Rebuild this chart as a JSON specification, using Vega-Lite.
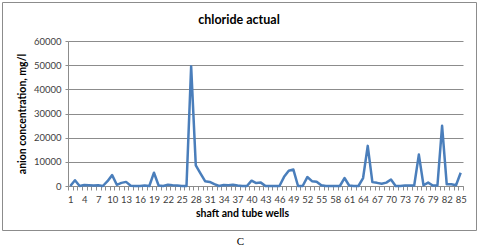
{
  "$schema": "https://vega.github.io/schema/vega-lite/v6.json",
  "width": 474,
  "height": 228,
  "padding": {"left": 2, "top": 2, "right": 2, "bottom": 2},
  "background": "white",
  "title": {"text": "chloride actual", "orient": "top", "anchor": "middle", "frame": "group", "offset": -24, "font": "Lato", "fontSize": 12.5, "fontWeight": "bold", "color": "#000000"},
  "config": {"view": {"stroke": "#8c8c8c", "strokeWidth": 1}},
  "data": {"values": [
    {"well": 1, "cl": 0}, {"well": 2, "cl": 2400}, {"well": 3, "cl": 0}, {"well": 4, "cl": 400}, {"well": 5, "cl": 300},
    {"well": 6, "cl": 200}, {"well": 7, "cl": 300}, {"well": 8, "cl": 0}, {"well": 9, "cl": 2000}, {"well": 10, "cl": 4500},
    {"well": 11, "cl": 500}, {"well": 12, "cl": 1300}, {"well": 13, "cl": 1700}, {"well": 14, "cl": 100}, {"well": 15, "cl": 0},
    {"well": 16, "cl": 0}, {"well": 17, "cl": 200}, {"well": 18, "cl": 0}, {"well": 19, "cl": 5500}, {"well": 20, "cl": 200},
    {"well": 21, "cl": 0}, {"well": 22, "cl": 500}, {"well": 23, "cl": 300}, {"well": 24, "cl": 200}, {"well": 25, "cl": 0},
    {"well": 26, "cl": 0}, {"well": 27, "cl": 49500}, {"well": 28, "cl": 8500}, {"well": 29, "cl": 5200}, {"well": 30, "cl": 2000},
    {"well": 31, "cl": 1700}, {"well": 32, "cl": 800}, {"well": 33, "cl": 0}, {"well": 34, "cl": 400}, {"well": 35, "cl": 300},
    {"well": 36, "cl": 500}, {"well": 37, "cl": 200}, {"well": 38, "cl": 0}, {"well": 39, "cl": 0}, {"well": 40, "cl": 2200},
    {"well": 41, "cl": 1200}, {"well": 42, "cl": 1400}, {"well": 43, "cl": 0}, {"well": 44, "cl": 0}, {"well": 45, "cl": 0},
    {"well": 46, "cl": 0}, {"well": 47, "cl": 3800}, {"well": 48, "cl": 6300}, {"well": 49, "cl": 6800}, {"well": 50, "cl": 0},
    {"well": 51, "cl": 0}, {"well": 52, "cl": 3700}, {"well": 53, "cl": 2000}, {"well": 54, "cl": 1800}, {"well": 55, "cl": 300},
    {"well": 56, "cl": 0}, {"well": 57, "cl": 0}, {"well": 58, "cl": 0}, {"well": 59, "cl": 0}, {"well": 60, "cl": 3300},
    {"well": 61, "cl": 200}, {"well": 62, "cl": 0}, {"well": 63, "cl": 0}, {"well": 64, "cl": 3300}, {"well": 65, "cl": 16600},
    {"well": 66, "cl": 1600}, {"well": 67, "cl": 1300}, {"well": 68, "cl": 900}, {"well": 69, "cl": 1400}, {"well": 70, "cl": 2700},
    {"well": 71, "cl": 0}, {"well": 72, "cl": 0}, {"well": 73, "cl": 200}, {"well": 74, "cl": 200}, {"well": 75, "cl": 200},
    {"well": 76, "cl": 13000}, {"well": 77, "cl": 300}, {"well": 78, "cl": 1400}, {"well": 79, "cl": 200}, {"well": 80, "cl": 200},
    {"well": 81, "cl": 24900}, {"well": 82, "cl": 700}, {"well": 83, "cl": 700}, {"well": 84, "cl": 300}, {"well": 85, "cl": 5500}
  ]},
  "layer": [
    {
      "mark": {"type": "line", "color": "#4a7ebb", "strokeWidth": 2.5, "strokeJoin": "round"},
      "encoding": {
        "x": {
          "field": "well", "type": "quantitative",
          "scale": {"domain": [0.5, 85.5], "range": [66, 461], "nice": false, "zero": false},
          "axis": {
            "orient": "bottom", "offset": -44,
            "values": [0.5,1.5,2.5,3.5,4.5,5.5,6.5,7.5,8.5,9.5,10.5,11.5,12.5,13.5,14.5,15.5,16.5,17.5,18.5,19.5,20.5,21.5,22.5,23.5,24.5,25.5,26.5,27.5,28.5,29.5,30.5,31.5,32.5,33.5,34.5,35.5,36.5,37.5,38.5,39.5,40.5,41.5,42.5,43.5,44.5,45.5,46.5,47.5,48.5,49.5,50.5,51.5,52.5,53.5,54.5,55.5,56.5,57.5,58.5,59.5,60.5,61.5,62.5,63.5,64.5,65.5,66.5,67.5,68.5,69.5,70.5,71.5,72.5,73.5,74.5,75.5,76.5,77.5,78.5,79.5,80.5,81.5,82.5,83.5,84.5,85.5],
            "labelExpr": "((datum.value - 0.5) % 3 == 1) ? format(datum.value - 0.5, 'd') : ''",
            "labelOffset": -2.32,
            "labelOverlap": false,
            "labelFlush": false,
            "labelBound": false,
            "labelFont": "Lato", "labelFontSize": 9.5, "labelColor": "#404040", "labelPadding": 4,
            "grid": false,
            "tickSize": 4, "tickColor": "#8c8c8c", "domainColor": "#8c8c8c",
            "title": "shaft and tube wells", "titleX": 240, "titleY": 27, "titleBaseline": "middle",
            "titleFont": "Lato", "titleFontSize": 10.5, "titleFontWeight": "bold", "titleColor": "#000000"
          }
        },
        "y": {
          "field": "cl", "type": "quantitative",
          "scale": {"domain": [0, 60000], "range": [184, 39], "nice": false, "zero": true},
          "axis": {
            "orient": "left", "offset": -66,
            "values": [0, 10000, 20000, 30000, 40000, 50000, 60000],
            "format": "d",
            "grid": true, "gridColor": "#8c8c8c", "gridWidth": 1,
            "domainColor": "#8c8c8c", "tickColor": "#8c8c8c", "tickSize": 3,
            "labelFont": "Lato", "labelFontSize": 9.5, "labelColor": "#404040", "labelPadding": 4,
            "title": "anion concentration, mg/l", "titleFont": "Lato", "titleFontSize": 10.5, "titleFontWeight": "bold", "titleColor": "#000000", "titlePadding": 6
          }
        }
      }
    },
    {
      "mark": {"type": "rule", "opacity": 0},
      "encoding": {
        "x": {
          "field": "well", "type": "quantitative",
          "axis": {
            "orient": "bottom", "offset": 0, "labels": false, "ticks": false, "domain": false, "grid": false,
            "title": "C", "titleX": 238, "titleY": 11, "titleBaseline": "middle",
            "titleFont": "Liberation Serif", "titleFontSize": 11, "titleFontWeight": "normal", "titleColor": "#000000"
          }
        }
      }
    }
  ],
  "resolve": {"axis": {"x": "independent"}}
}
